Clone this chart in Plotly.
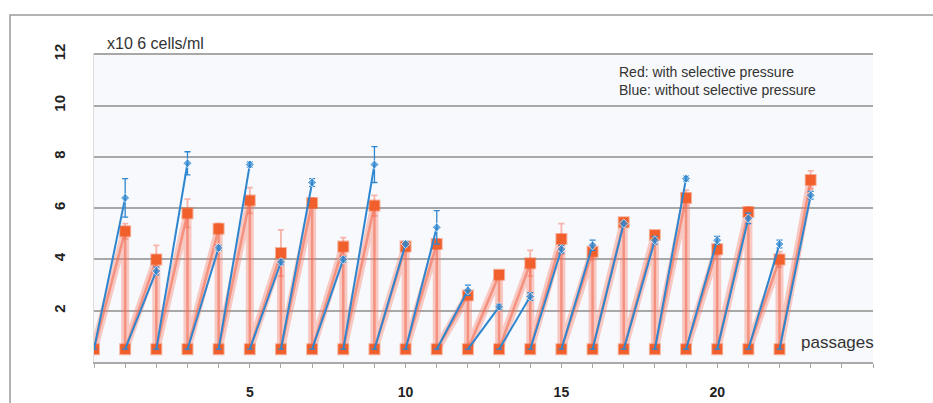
import plotly.graph_objects as go

# Passage number at which each culture was counted
passages = list(range(1, 24))
seed_density = 0.5  # x10^6 cells/ml after each re-seeding

# Cell densities (x10^6 cells/ml) at each passage
blue_values = [6.4, 3.55, 7.75, 4.45, 7.7, 3.9, 7.0, 4.0, 7.7, 4.6, 5.25, 2.8,
               2.15, 2.55, 4.4, 4.55, 5.4, 4.75, 7.15, 4.75, 5.6, 4.6, 6.5]
red_values = [5.1, 4.0, 5.8, 5.2, 6.3, 4.25, 6.2, 4.5, 6.1, 4.5, 4.6, 2.6,
              3.4, 3.85, 4.8, 4.3, 5.45, 4.95, 6.4, 4.4, 5.85, 4.0, 7.1]
blue_err = [0.75, 0.15, 0.45, 0.1, 0.1, 0.1, 0.15, 0.1, 0.7, 0.1, 0.65, 0.2,
            0.1, 0.15, 0.15, 0.2, 0.1, 0.15, 0.1, 0.15, 0.2, 0.15, 0.15]
red_err = [0.3, 0.55, 0.55, 0.2, 0.5, 0.9, 0.2, 0.35, 0.4, 0.15, 0.2, 0.15,
           0.15, 0.5, 0.6, 0.3, 0.15, 0.15, 0.3, 0.2, 0.2, 0.3, 0.35]

x_ticks = [5, 10, 15, 20]
y_ticks = [2, 4, 6, 8, 10, 12]


def sawtooth(values, errs):
    xs, ys, es = [0], [seed_density], [0]
    for p, v, e in zip(passages, values, errs):
        xs += [p, p]
        ys += [v, seed_density]
        es += [e, 0]
    return xs[:-1], ys[:-1], es[:-1]


def rising(values, errs):
    # growth segments only (re-seeding drop hidden under the red trace)
    xs, ys, es, sz = [], [], [], []
    for p, v, e in zip(passages, values, errs):
        xs += [p - 1, p, None]
        ys += [seed_density, v, None]
        es += [0, e, 0]
        sz += [0, 7, 0]
    return xs, ys, es, sz


rx, ry, re_ = sawtooth(red_values, red_err)
bx, by, be, bs = rising(blue_values, blue_err)

fig = go.Figure()
# red: soft wide band
fig.add_trace(go.Scatter(
    x=rx, y=ry, mode="lines",
    line=dict(color="rgba(246,120,100,0.38)", width=8),
    error_y=dict(type="data", array=re_, color="rgba(246,112,88,0.5)", thickness=1.8, width=3),
    showlegend=False, hoverinfo="skip"))
# red: core line and markers
fig.add_trace(go.Scatter(
    x=rx, y=ry, mode="lines+markers",
    line=dict(color="rgba(242,100,72,0.55)", width=2.5),
    marker=dict(symbol="square", size=10, color="#f1602c",
                line=dict(color="rgba(241,96,44,0.45)", width=2)),
    showlegend=False, hoverinfo="x+y"))
fig.add_trace(go.Scatter(
    x=bx, y=by, mode="lines+markers", connectgaps=False,
    line=dict(color="#2d86cf", width=2),
    marker=dict(symbol="diamond", size=bs, color="#2d86cf"),
    error_y=dict(type="data", array=be, color="#2d86cf", thickness=1.3, width=3),
    showlegend=False, hoverinfo="x+y"))

fig.update_layout(
    width=933, height=403,
    margin=dict(l=94, r=60, t=53, b=41),
    paper_bgcolor="white", plot_bgcolor="#f8f9fc",
    font=dict(family="Liberation Sans, Arial, sans-serif", color="#222"),
    xaxis=dict(range=[0, 25], tickvals=x_ticks, ticktext=[f"<b>{t}</b>" for t in x_ticks],
               automargin=False,
               showgrid=False, zeroline=False, showline=True, linecolor="#a8a8a8", linewidth=1.5,
               ticks="outside", ticklen=4, tickcolor="#a8a8a8",
               minor=dict(dtick=1, tick0=0, ticks="outside", ticklen=4, tickcolor="#a8a8a8"),
               tickfont=dict(size=14, color="#222"), ticklabelstandoff=12),
    yaxis=dict(range=[0, 12.05], tickvals=y_ticks, ticktext=[f"<b>{t}</b>" for t in y_ticks],
               automargin=False,
               tickangle=-90, showgrid=True, gridcolor="#a8a8a8", gridwidth=1.5,
               zeroline=False, showline=True, linecolor="#dcdcdc", linewidth=1,
               tickfont=dict(size=15, color="#222"), ticklabelstandoff=22),
    annotations=[
        dict(text="x10 6 cells/ml", xref="paper", yref="paper", x=0.014, y=1.032,
             xanchor="left", yanchor="middle", showarrow=False, font=dict(size=16, color="#333")),
        dict(text="Red: with selective pressure<br>Blue: without selective pressure",
             xref="paper", yref="paper", x=0.672, y=0.908, xanchor="left", yanchor="middle",
             align="left", showarrow=False, font=dict(size=14, color="#333")),
        dict(text="passages", xref="paper", yref="paper", x=0.905, y=0.0615,
             xanchor="left", yanchor="middle", showarrow=False, font=dict(size=17, color="#333")),
    ],
    shapes=[
        dict(type="rect", xref="paper", yref="paper", x0=-0.1078, x1=1.3, y0=-0.3, y1=1.123,
             line=dict(color="#9a9a9a", width=1.5), layer="below"),
    ],
)

fig.write_html("out.html", config={"displayModeBar": False},
               post_script="document.body.style.margin='0';document.body.style.overflow='hidden';")
